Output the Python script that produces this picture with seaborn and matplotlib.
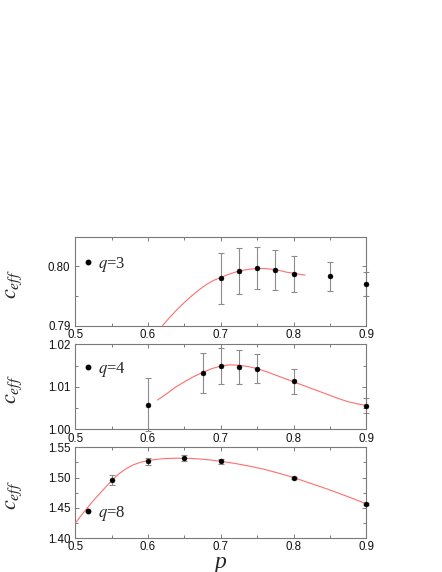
import matplotlib
matplotlib.use("Agg")
import matplotlib.pyplot as plt
import seaborn as sns
import pandas as pd
from matplotlib.ticker import MultipleLocator, FormatStrFormatter
from matplotlib.lines import Line2D

# ---------------- data ----------------
# q = 3
p_q3 = [0.70, 0.725, 0.75, 0.775, 0.80, 0.85, 0.90]
c_q3 = [0.7980, 0.7992, 0.7997, 0.7994, 0.7987, 0.7983, 0.7970]
e_q3 = [0.0043, 0.0039, 0.0036, 0.0034, 0.0031, 0.0024, 0.0020]
fit_p_q3 = [0.62, 0.63, 0.64, 0.65, 0.66, 0.67, 0.68, 0.69, 0.70, 0.71, 0.72,
            0.73, 0.74, 0.75, 0.76, 0.77, 0.78, 0.79, 0.80, 0.81, 0.816]
fit_c_q3 = [0.7900, 0.7914, 0.7927, 0.7939, 0.7950, 0.7960, 0.7969, 0.7976,
            0.7981, 0.7986, 0.7990, 0.7993, 0.7995, 0.7996, 0.7996, 0.7995,
            0.7993, 0.7990, 0.7988, 0.7986, 0.7985]

# q = 4
p_q4 = [0.60, 0.675, 0.70, 0.725, 0.75, 0.80, 0.90]
c_q4 = [1.0058, 1.0133, 1.0149, 1.0146, 1.0143, 1.0113, 1.0056]
e_q4 = [0.0062, 0.0047, 0.0042, 0.0040, 0.0035, 0.0030, 0.0018]
fit_p_q4 = [0.613, 0.625, 0.6375, 0.65, 0.6625, 0.675, 0.6875, 0.70, 0.7125,
            0.725, 0.7375, 0.75, 0.7625, 0.775, 0.7875, 0.80, 0.8125, 0.825,
            0.8375, 0.85, 0.8625, 0.875, 0.8875, 0.90]
fit_c_q4 = [1.0069, 1.0083, 1.0099, 1.0112, 1.0124, 1.0134, 1.0143, 1.0149,
            1.0152, 1.0151, 1.0148, 1.0143, 1.0136, 1.0128, 1.0120, 1.0112,
            1.0104, 1.0096, 1.0088, 1.0080, 1.0072, 1.0065, 1.0060, 1.0056]

# q = 8
p_q8 = [0.55, 0.60, 0.65, 0.70, 0.80, 0.90]
c_q8 = [1.4958, 1.5269, 1.5324, 1.5266, 1.4997, 1.4560]
e_q8 = [0.0080, 0.0060, 0.0044, 0.0038, 0.0020, 0.0020]
fit_p_q8 = [0.50, 0.51, 0.52, 0.53, 0.54, 0.55, 0.56, 0.57, 0.58, 0.59, 0.60,
            0.61, 0.62, 0.63, 0.64, 0.65, 0.66, 0.67, 0.68, 0.69, 0.70, 0.72,
            0.74, 0.76, 0.78, 0.80, 0.82, 0.84, 0.86, 0.88, 0.90]
fit_c_q8 = [1.4247, 1.4402, 1.4550, 1.4689, 1.4820, 1.4950, 1.5062, 1.5148,
            1.5212, 1.5254, 1.5280, 1.5298, 1.5310, 1.5317, 1.5320, 1.5319,
            1.5315, 1.5307, 1.5297, 1.5284, 1.5269, 1.5232, 1.5187, 1.5135,
            1.5071, 1.5000, 1.4918, 1.4837, 1.4750, 1.4660, 1.4566]

labels = ["3", "4", "8"]
ylims = [(0.79, 0.805), (1.00, 1.02), (1.40, 1.55)]
ymajor = [0.01, 0.01, 0.05]
yminor = [0.005, 0.005, 0.025]
legend_pos = [(0.028, 0.688), (0.028, 0.703), (0.028, 0.268)]
xticks = [0.5, 0.6, 0.7, 0.8, 0.9]

# ---------------- style ----------------
sns.set_style("ticks")
plt.rcParams["font.family"] = ["Liberation Sans", "DejaVu Sans"]
plt.rcParams["mathtext.fontset"] = "stix"

fig = plt.figure(figsize=(4.42, 5.72), dpi=100)
left, width = 0.1704, 0.6583
rects = [(left, 0.4309, width, 0.1556),
         (left, 0.2495, width, 0.1483),
         (left, 0.0594, width, 0.1586)]

panels = [(p_q3, c_q3, e_q3, fit_p_q3, fit_c_q3),
          (p_q4, c_q4, e_q4, fit_p_q4, fit_c_q4),
          (p_q8, c_q8, e_q8, fit_p_q8, fit_c_q8)]

spine_col = "#7a7a7a"
for i, (rect, (px, cy, ey, fx, fy)) in enumerate(zip(rects, panels)):
    ax = fig.add_axes(rect)
    fit_df = pd.DataFrame({"p": fx, "c": fy})
    pts_df = pd.DataFrame({"p": px, "c": cy, "e": ey})
    ax.errorbar(pts_df["p"], pts_df["c"], yerr=pts_df["e"], fmt="none",
                ecolor="#8c8c8c", elinewidth=0.8, capsize=2.3,
                capthick=0.8, zorder=2, clip_on=False)
    sns.lineplot(data=fit_df, x="p", y="c", ax=ax, color="#ff6e6e",
                 linewidth=0.8, zorder=3, sort=False)
    sns.scatterplot(data=pts_df, x="p", y="c", ax=ax, color="black",
                    s=13, edgecolor="black", linewidth=0.3, zorder=4,
                    clip_on=False)
    ax.set_xlim(0.5, 0.9)
    ax.set_ylim(*ylims[i])
    ax.set_xticks(xticks)
    ax.xaxis.set_minor_locator(MultipleLocator(0.05))
    ax.yaxis.set_major_locator(MultipleLocator(ymajor[i]))
    ax.yaxis.set_minor_locator(MultipleLocator(yminor[i]))
    ax.xaxis.set_major_formatter(FormatStrFormatter("%.1f"))
    ax.yaxis.set_major_formatter(FormatStrFormatter("%.2f"))
    ax.tick_params(which="both", direction="in", top=True, right=True,
                   color=spine_col, width=0.7, labelsize=8.3,
                   labelcolor="#111111")
    ax.tick_params(which="major", length=3.2)
    ax.tick_params(which="minor", length=2.2)
    ax.tick_params(axis="x", pad=2.5)
    ax.tick_params(axis="y", pad=3.5)
    for s in ax.spines.values():
        s.set_color(spine_col)
        s.set_linewidth(0.8)
    ax.set_ylabel(r"$c_{eff}$", fontsize=16, rotation=90)
    ax.yaxis.set_label_coords(-0.175, 0.47)
    if i == 2:
        ax.set_xlabel("p", fontsize=17, fontstyle="italic",
                      family="Liberation Serif", labelpad=-1)
    else:
        ax.set_xlabel("")
    handle = Line2D([], [], marker="o", linestyle="none", color="black",
                    markersize=3.2)
    ax.legend([handle], [r"$q$=" + labels[i]], loc="center left",
              bbox_to_anchor=legend_pos[i], frameon=False,
              handlelength=0.5, handletextpad=0.35, borderaxespad=0.0,
              borderpad=0.0,
              prop={"family": "Liberation Serif", "size": 12})

fig.savefig("out.png", dpi=100)
